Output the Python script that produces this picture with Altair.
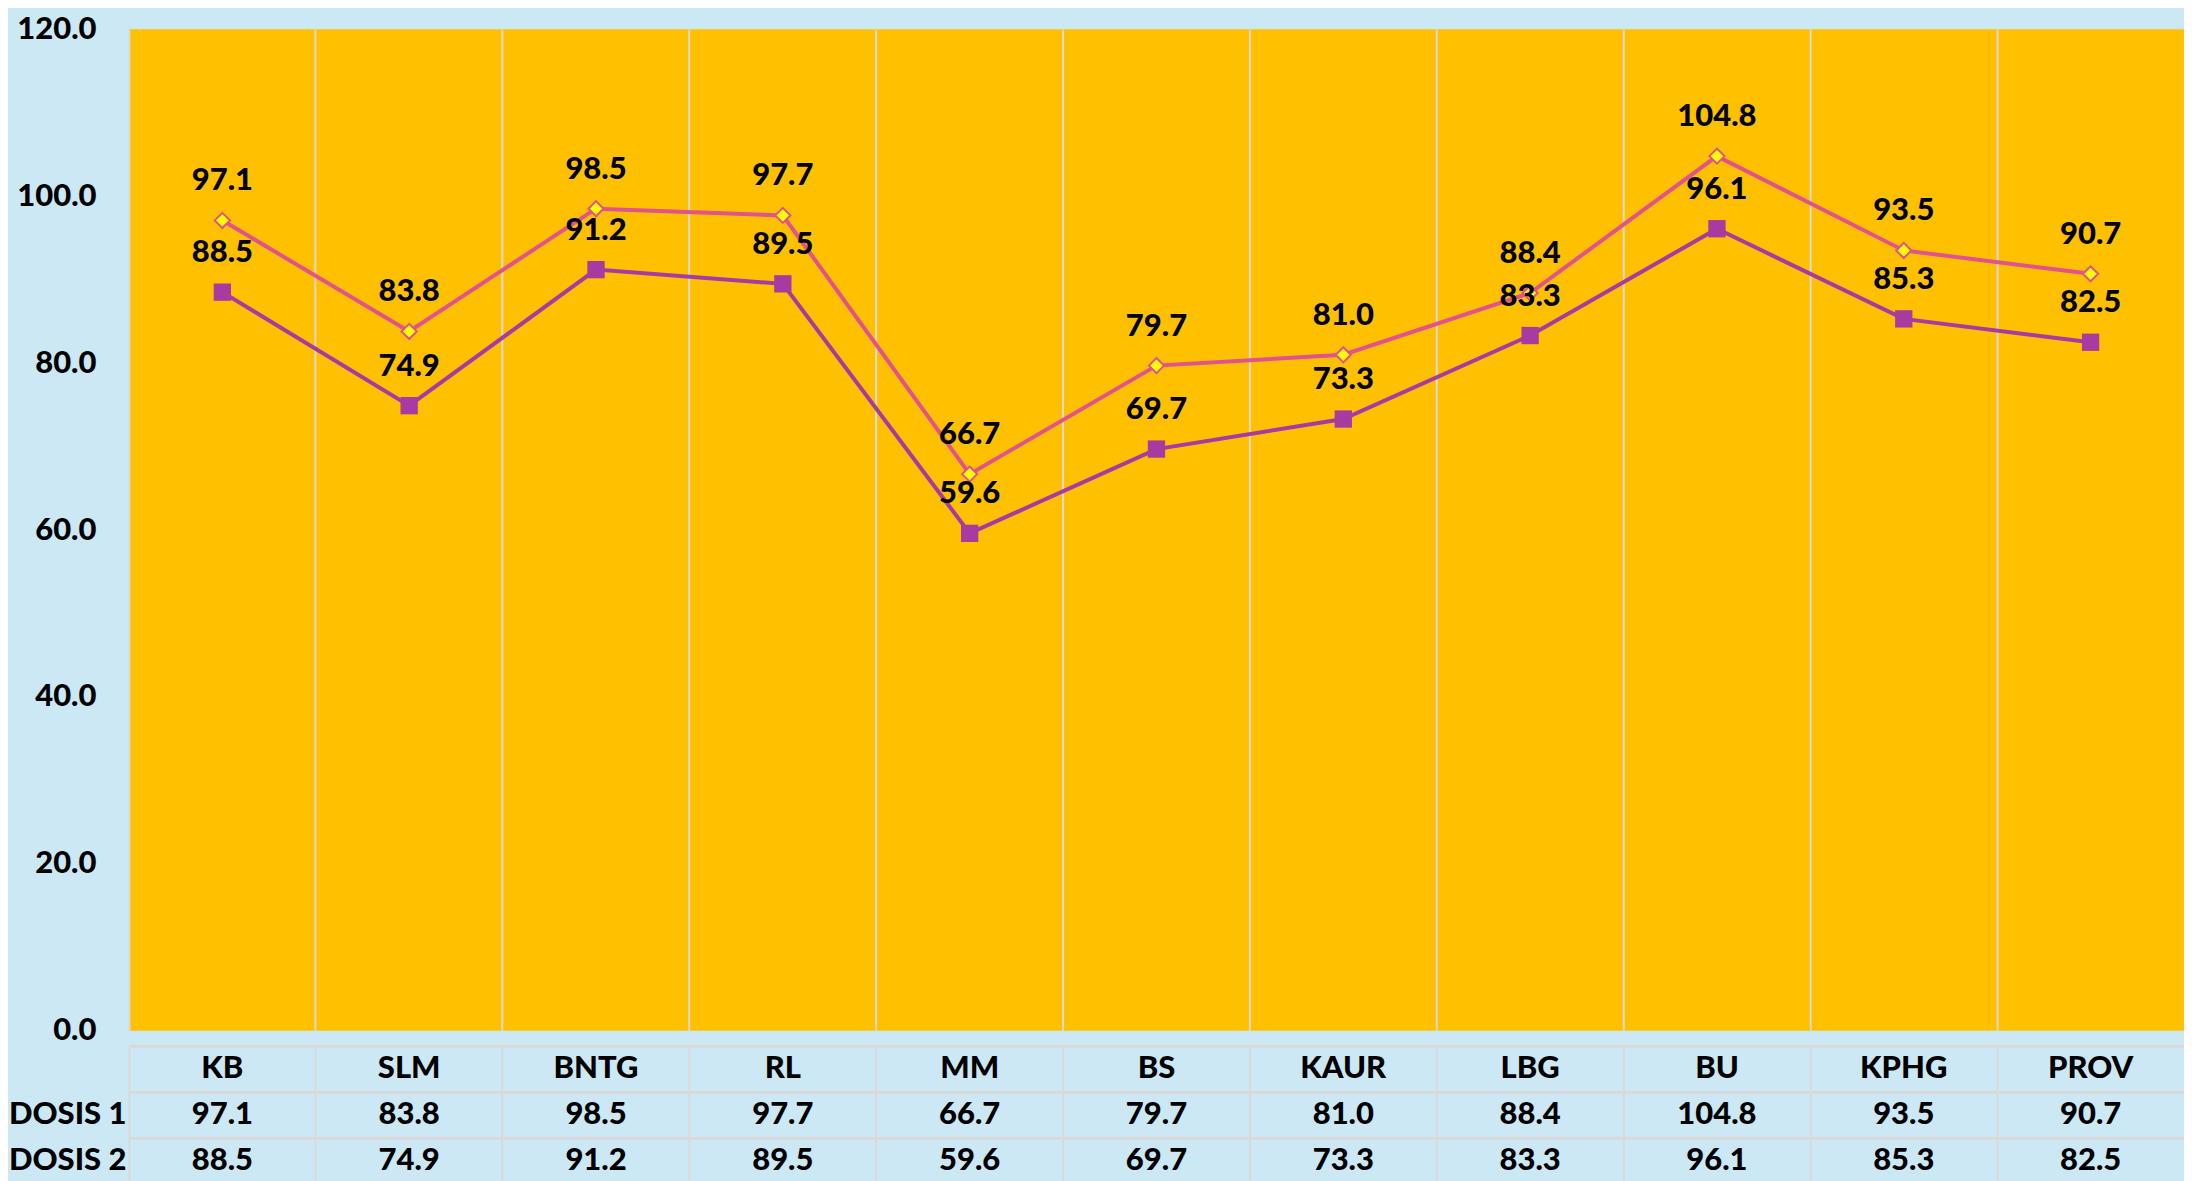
import altair as alt
import pandas as pd

categories = ["KB", "SLM", "BNTG", "RL", "MM", "BS", "KAUR", "LBG", "BU", "KPHG", "PROV"]
dosis1 = [97.1, 83.8, 98.5, 97.7, 66.7, 79.7, 81.0, 88.4, 104.8, 93.5, 90.7]
dosis2 = [88.5, 74.9, 91.2, 89.5, 59.6, 69.7, 73.3, 83.3, 96.1, 85.3, 82.5]
series_names = ["DOSIS 1", "DOSIS 2"]
y_ticks = [0, 20, 40, 60, 80, 100, 120]

FONT = "Lato"
WEIGHT = 900
BG = "#CCE8F5"
ORANGE = "#FFC000"
PINK = "#E2528C"
PURPLE = "#A83AA2"
GRID = "#D9D9D9"
FS = 31

rows = []
for c, a, b in zip(categories, dosis1, dosis2):
    rows.append({"cat": c, "series": "DOSIS 1", "value": a})
    rows.append({"cat": c, "series": "DOSIS 2", "value": b})
df = pd.DataFrame(rows)

W = 2056
H = 1002

xenc = alt.X("cat:N", sort=categories,
             scale=alt.Scale(type="band", paddingInner=0, paddingOuter=0),
             axis=alt.Axis(grid=True, bandPosition=0, labels=False, ticks=False,
                           domain=False, title=None, gridColor=GRID, gridWidth=2))
yenc = alt.Y("value:Q", scale=alt.Scale(domain=[0, 120], nice=False),
             axis=alt.Axis(values=y_ticks, format=".1f", grid=False, domain=False,
                           ticks=False, labelFontSize=FS, labelFont=FONT,
                           labelFontWeight=WEIGHT, labelColor="black",
                           labelPadding=33, labelFlush=False, title=None))

base = alt.Chart(df).encode(x=xenc, y=yenc)

d1 = base.transform_filter(alt.datum.series == "DOSIS 1")
d2 = base.transform_filter(alt.datum.series == "DOSIS 2")

line2 = d2.mark_line(color=PURPLE, strokeWidth=4)
pts2 = d2.mark_point(shape="square", size=300, filled=True, color=PURPLE, opacity=1)
line1 = d1.mark_line(color=PINK, strokeWidth=4)
pts1 = d1.mark_point(shape="diamond", size=230, filled=True, fill="#FFFF00",
                     stroke=PINK, strokeWidth=2, opacity=1)
lab = base.mark_text(dy=-39, fontSize=FS, font=FONT, fontWeight=WEIGHT,
                     color="black", baseline="middle").encode(
    text=alt.Text("value:Q", format=".1f"))

top = alt.layer(line2, line1, pts2, pts1, lab).properties(
    width=W, height=H, view=alt.ViewBackground(fill=ORANGE, strokeWidth=0))

# Table below
trows = []
for i, c in enumerate(categories):
    trows.append({"cat": c, "row": "cat", "txt": c})
    trows.append({"cat": c, "row": "DOSIS 1", "txt": f"{dosis1[i]:.1f}"})
    trows.append({"cat": c, "row": "DOSIS 2", "txt": f"{dosis2[i]:.1f}"})
tdf = pd.DataFrame(trows)

table = alt.Chart(tdf).mark_text(fontSize=FS, font=FONT, fontWeight=WEIGHT,
                                  color="black", baseline="middle").encode(
    x=xenc,
    y=alt.Y("row:N", sort=["cat", "DOSIS 1", "DOSIS 2"],
            scale=alt.Scale(type="band", paddingInner=0, paddingOuter=0),
            axis=alt.Axis(grid=True, bandPosition=0, ticks=False, domain=False,
                          gridColor=GRID, gridWidth=3, labelFontSize=FS,
                          labelFont=FONT, labelFontWeight=WEIGHT, labelColor="black",
                          labelPadding=3, title=None,
                          labelExpr="datum.value == 'cat' ? '' : datum.value")),
    text="txt:N",
).properties(width=W, height=138, view=alt.ViewBackground(fill=BG, strokeWidth=0))

chart = alt.vconcat(top, table, spacing=0).properties(
    padding={"top": 5, "left": 0, "right": 0, "bottom": 0}, background=BG
).configure_view(strokeWidth=0).configure_concat(spacing=0)

chart.save("out.html", embed_options={"renderer": "svg", "actions": False})
